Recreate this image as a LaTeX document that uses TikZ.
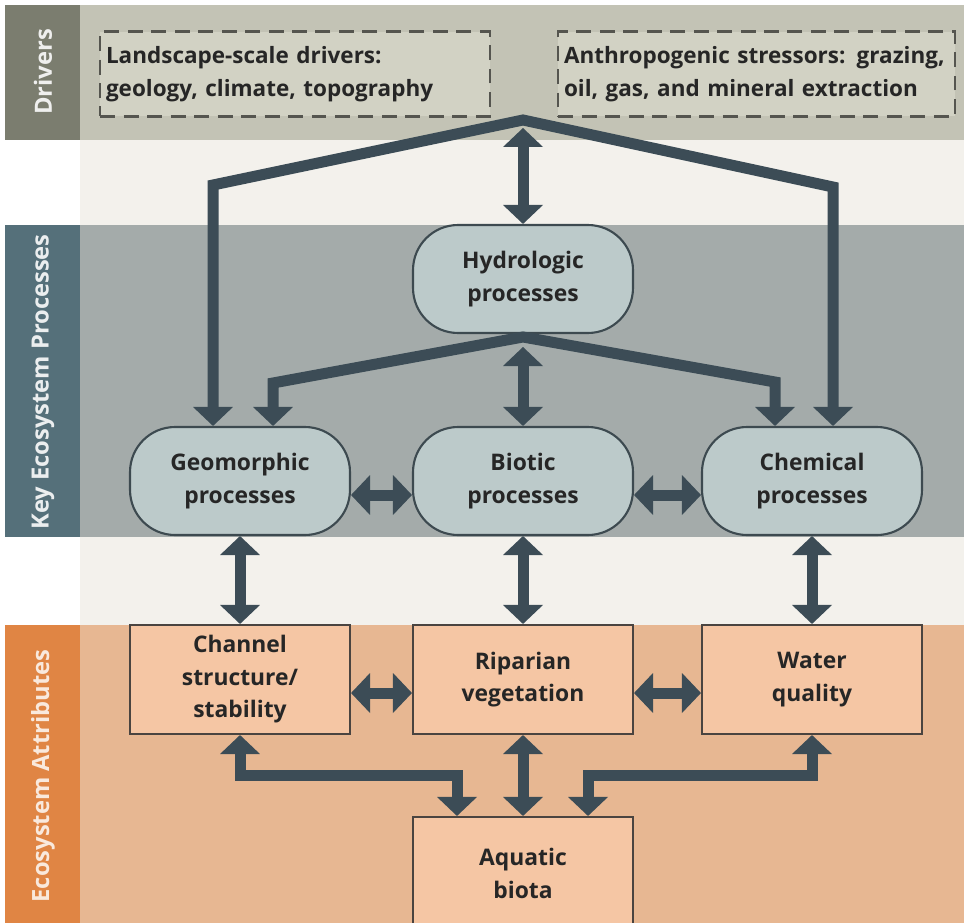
\documentclass[tikz,border=0pt]{standalone}
\usepackage{fontspec}
\setmainfont{Open Sans}
\usetikzlibrary{arrows.meta}

\definecolor{drvbar}{HTML}{7B7D6F}
\definecolor{drvband}{HTML}{C3C3B5}
\definecolor{drvfill}{HTML}{D2D2C4}
\definecolor{dashcol}{HTML}{55554F}
\definecolor{gapcol}{HTML}{F3F1EC}
\definecolor{procbar}{HTML}{55707A}
\definecolor{procband}{HTML}{A4ABAA}
\definecolor{procfill}{HTML}{BCCACA}
\definecolor{procline}{HTML}{3D4A50}
\definecolor{attrbar}{HTML}{E08544}
\definecolor{attrband}{HTML}{E7B792}
\definecolor{attrfill}{HTML}{F5C6A4}
\definecolor{attrline}{HTML}{4A4440}
\definecolor{arrowcol}{HTML}{3C4C56}
\definecolor{txtcol}{HTML}{262626}

\tikzset{
  tip/.tip={Triangle[width=0.8cm,length=0.38cm,line width=0pt]},
  both/.style={draw=arrowcol,line width=0.22cm,tip-tip},
  barlabel/.style={rotate=90,font=\fontsize{13.5}{15}\selectfont\bfseries},
}

\begin{document}
\begin{tikzpicture}[x=0.02cm,y=-0.02cm,
  proc/.style={draw=procline,fill=procfill,line width=1.2pt,rounded corners=0.9cm,
    minimum width=4.4cm,minimum height=2.16cm,align=center,text=txtcol,
    font=\fontsize{13}{18.5}\selectfont\bfseries},
  attr/.style={draw=attrline,fill=attrfill,line width=1.2pt,
    minimum width=4.4cm,minimum height=2.18cm,align=center,text=txtcol,
    font=\fontsize{13}{18.5}\selectfont\bfseries},
  drvbox/.style={draw=dashcol,fill=drvfill,line width=1.5pt,dash pattern=on 0.3cm off 0.17cm,
    minimum height=1.7cm,inner xsep=0.12cm,align=left,text=txtcol,
    font=\fontsize{12.8}{18.5}\selectfont\bfseries}]
  \useasboundingbox (0,0) rectangle (964,923);

  % bands
  \fill[gapcol] (80,140) rectangle (964,625);
  \fill[drvband] (5,5) rectangle (964,140);
  \fill[drvbar] (5,5) rectangle (80,140);
  \fill[procband] (5,225) rectangle (964,537);
  \fill[procbar] (5,225) rectangle (80,537);
  \fill[attrband] (5,625) rectangle (964,923);
  \fill[attrbar] (5,625) rectangle (80,923);

  \node[barlabel,text=white!88!drvbar] (lbldrv) at (43,72) {Drivers};
  \node[barlabel,text=white!88!procbar] (lblproc) at (43,382) {Key Ecosystem Processes};
  \node[barlabel,text=white!82!attrbar] (lblattr) at (43,776) {Ecosystem Attributes};

  % drivers
  \node[drvbox,text width=7.56cm] (land) at (295,74) {Landscape-scale drivers:\\geology, climate, topography};
  \node[drvbox,text width=7.7cm] (anthro) at (756.5,74) {Anthropogenic stressors: grazing,\\oil, gas, and mineral extraction};

  % processes
  \node[proc] (hydro) at (523,279) {Hydrologic\\processes};
  \node[proc] (geo) at (240,481) {Geomorphic\\processes};
  \node[proc] (bio) at (523,481) {Biotic\\processes};
  \node[proc] (chem) at (812,481) {Chemical\\processes};

  % attributes
  \node[attr] (chan) at (240,679.5) {Channel\\structure/\\stability};
  \node[attr] (ripa) at (523,679.5) {Riparian\\vegetation};
  \node[attr] (water) at (812,679.5) {Water\\quality};
  \node[attr,minimum height=2.26cm] (aqua) at (523,873.5) {Aquatic\\biota};

  % drivers to processes
  \coordinate (drvtop) at (523,120);
  \coordinate (drvarr) at (523,128);
  \draw[both] (213,0 |- geo.north) -- (213,185) -- (drvtop) -- (833,187) -- (833,0 |- chem.north);
  \draw[both] (drvarr) -- (hydro.north);

  % hydrologic to the rest
  \coordinate (hydtop) at (523,337);
  \coordinate (hydarr) at (523,347);
  \draw[both] (273,0 |- geo.north) -- (273,383) -- (hydtop) -- (775,382) -- (775,0 |- chem.north);
  \draw[both] (hydarr) -- (bio.north);
  \draw[both] ([yshift=-0.28cm]geo.east) -- ([yshift=-0.28cm]bio.west);
  \draw[both] ([yshift=-0.28cm]bio.east) -- ([yshift=-0.28cm]chem.west);

  % processes to attributes
  \draw[both] (geo.south) -- (chan.north);
  \draw[both] (bio.south) -- (ripa.north);
  \draw[both] (chem.south) -- (water.north);
  \draw[both] ([yshift=-0.27cm]chan.east) -- ([yshift=-0.27cm]ripa.west);
  \draw[both] ([yshift=-0.27cm]ripa.east) -- ([yshift=-0.27cm]water.west);

  % attributes to aquatic biota
  \draw[both] (ripa.south) -- (aqua.north);
  \draw[both] (chan.south) -- (240,775) -- (457,775) -- (457,0 |- aqua.north);
  \draw[both] (water.south) -- (812,775) -- (588,775) -- (588,0 |- aqua.north);
\end{tikzpicture}
\end{document}
